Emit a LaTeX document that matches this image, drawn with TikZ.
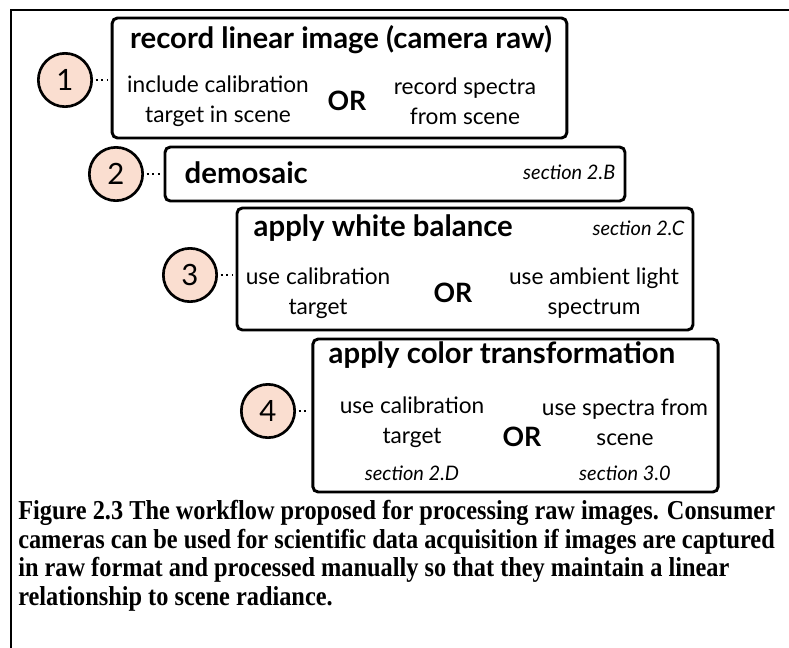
\documentclass[tikz,border=0pt]{standalone}
\usepackage{fontspec}
\setmainfont{Lato}
\newfontfamily\capfont[FakeStretch=0.89]{Liberation Serif}
\definecolor{peach}{RGB}{250,222,208}
\begin{document}
\begin{tikzpicture}[x=0.75pt, y=-0.75pt,
      box/.style={draw, line width=2.2pt, rounded corners=4pt, inner sep=0},
      stepnum/.style={circle, draw, line width=2pt, fill=peach, minimum size=40pt, inner sep=0, font=\fontsize{22}{22}\selectfont},
      head/.style={font=\fontsize{22}{24}\selectfont\bfseries},
      txt/.style={align=center, font=\fontsize{17}{22.5}\selectfont},
      sect/.style={font=\fontsize{15}{17}\selectfont\itshape},
      orword/.style={font=\fontsize{20}{22}\selectfont\bfseries},
      link/.style={line width=1.6pt, dash pattern=on 1.6pt off 2.6pt, shorten <=2pt, shorten >=2pt}]
   \useasboundingbox (0,0) rectangle (789,647);
   % page frame
   \draw[line width=1.1pt] (11,650) -- (11,10) -- (792,10);
   % step 1
   \node[box, minimum width=341pt, minimum height=90pt] (b1) at (339.5,78) {};
   \node[stepnum] (c1) at (65,80) {1};
   \node[head] (t1) at (341,40) {record linear image (camera raw)};
   \node[txt] (l1) at (218,101) {include calibration\\target in scene};
   \node[orword] (o1) at (347,101) {OR};
   \node[txt] (r1) at (465,101) {record spectra\\from scene};
   % step 2
   \node[box, minimum width=345pt, minimum height=40.5pt] (b2) at (395,174) {};
   \node[stepnum] (c2) at (116,174) {2};
   \node[head, anchor=west] (t2) at (180,173) {demosaic};
   \node[sect, anchor=east] (s2) at (620,172) {section 2.B};
   % step 3
   \node[box, minimum width=342pt, minimum height=91.5pt] (b3) at (465,269) {};
   \node[stepnum] (c3) at (190,275) {3};
   \node[head, anchor=west] (t3) at (249,228) {apply white balance};
   \node[sect, anchor=east] (s3) at (689,228) {section 2.C};
   \node[txt] (l3) at (318,293) {use calibration\\target};
   \node[orword] (o3) at (453,293) {OR};
   \node[txt] (r3) at (594,293) {use ambient light\\spectrum};
   % step 4
   \node[box, minimum width=304pt, minimum height=114.75pt] (b4) at (515.5,415.5) {};
   \node[stepnum] (c4) at (268,411) {4};
   \node[head, anchor=west] (t4) at (324,355) {apply color transformation};
   \node[txt] (l4) at (412,422) {use calibration\\target};
   \node[sect] (d4) at (412,473) {section 2.D};
   \node[orword] (o4) at (522,437) {OR};
   \node[txt] (r4) at (625,422) {use spectra from\\scene};
   \node[sect] (e4) at (625,473) {section 3.0};
   % dotted links
   \foreach \i in {1,...,4}
      \draw[link] (c\i.east) -- (c\i.east -| b\i.west);
   % caption
   \node[anchor=north west, align=left, inner sep=0,
         font=\capfont\fontsize{20.5}{21.4}\selectfont\bfseries] (cap) at (18,500)
      {Figure 2.3 The workflow proposed for processing raw images. Consumer\\
       cameras can be used for scientific data acquisition if images are captured\\
       in raw format and processed manually so that they maintain a linear\\
       relationship to scene radiance.};
\end{tikzpicture}
\end{document}
